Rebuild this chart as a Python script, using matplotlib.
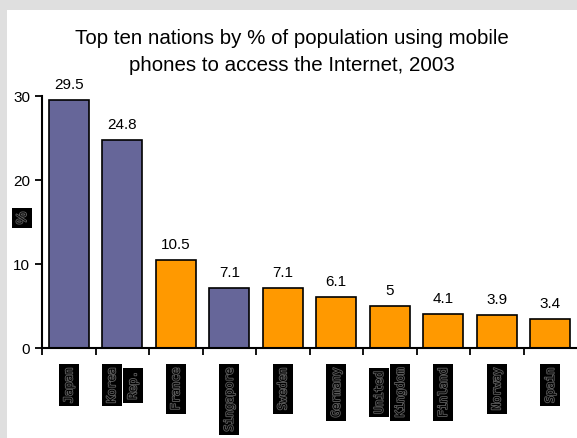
import matplotlib
matplotlib.use('Agg')
import matplotlib.pyplot as plt
import matplotlib.patheffects as pe
from matplotlib.patches import Rectangle

# Data
countries = ['Japan', 'Korea\nRep.', 'France', 'Singapore', 'Sweden',
             'Germany', 'United\nKingdom', 'Finland', 'Norway', 'Spain']
values = [29.5, 24.8, 10.5, 7.1, 7.1, 6.1, 5, 4.1, 3.9, 3.4]
value_labels = ['29.5', '24.8', '10.5', '7.1', '7.1', '6.1', '5', '4.1', '3.9', '3.4']
asian = [True, True, False, True, False, False, False, False, False, False]

purple = '#666699'
orange = '#ff9900'

plt.rcParams['font.family'] = ['Liberation Sans', 'DejaVu Sans']

fig = plt.figure(figsize=(5.77, 4.39), dpi=100, facecolor='#dfdfdf')
# white panel inside the grey frame
fig.patches.append(Rectangle((7 / 577, 0), 1, 1 - 11 / 439, transform=fig.transFigure,
                             facecolor='white', edgecolor='none', zorder=-5))

ax = fig.add_axes([42 / 577, 1 - 349 / 439, 535 / 577, 252 / 439])
ax.set_facecolor('none')
ax.set_zorder(2)

x = range(len(values))
colors = [purple if a else orange for a in asian]
ax.bar(x, values, width=0.74, color=colors, edgecolor='black', linewidth=1.2, zorder=2)

for i, (v, lab) in enumerate(zip(values, value_labels)):
    ax.annotate(lab, (i, v), xytext=(0, 6.5), textcoords='offset points',
                ha='center', va='bottom', fontsize=11)

ax.set_xlim(-0.5, 9.5)
ax.set_ylim(0, 30)
ax.set_yticks([0, 10, 20, 30])
ax.set_xticks([i - 0.5 for i in range(10)])
ax.set_xticklabels([])
ax.tick_params(axis='both', direction='out', length=5, width=1.3, labelsize=11)
for s in ['top', 'right']:
    ax.spines[s].set_visible(False)
for s in ['left', 'bottom']:
    ax.spines[s].set_linewidth(1.5)

# category labels: garbled-looking text in black boxes
fs = 8.5
pad = 2.5
outline = [pe.withStroke(linewidth=1.3, foreground='#5a5a5a')]
box = dict(facecolor='black', edgecolor='none', pad=pad)
for i, name in enumerate(countries):
    lines = name.split('\n')
    maxlen = max(len(l) for l in lines)
    n = len(lines)
    for j, line in enumerate(lines):
        dx = (j - (n - 1) / 2) * 15.2
        dy = -(11.5 + pad) - (maxlen - len(line)) * 0.602 * fs / 2
        ax.annotate(line, (i, 0), xycoords='data', xytext=(dx, dy),
                    textcoords='offset points', rotation=90, ha='center', va='top',
                    fontsize=fs, family='DejaVu Sans Mono', color='black',
                    path_effects=outline, bbox=box, annotation_clip=False)

fig.text(22 / 577, 1 - 219 / 439, '%', rotation=90, ha='center', va='center',
         fontsize=10, color='black', path_effects=outline,
         bbox=dict(facecolor='black', edgecolor='none', pad=2.5))

fig.text(292 / 577, 1 - 52 / 439,
         'Top ten nations by % of population using mobile\nphones to access the Internet, 2003',
         ha='center', va='center', fontsize=14.8, linespacing=1.5)

fig.savefig('out.png', dpi=100, facecolor=fig.get_facecolor())
